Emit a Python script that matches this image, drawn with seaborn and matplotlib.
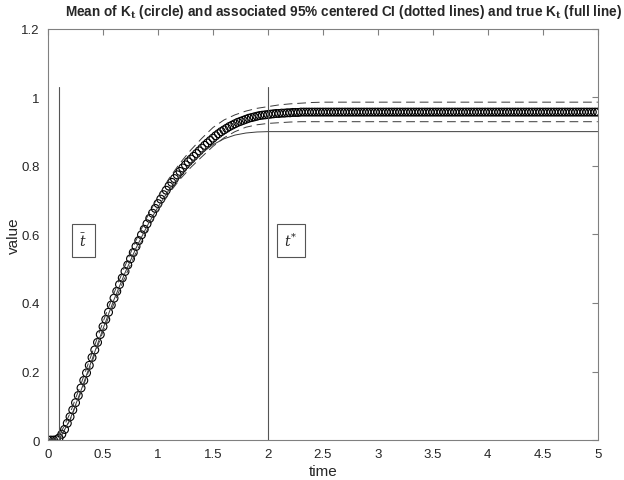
import numpy as np
import pandas as pd
import matplotlib
matplotlib.use("Agg")
import matplotlib.pyplot as plt
import seaborn as sns

# time grid of the circles (step 0.025)
time_mean = np.round(np.arange(201) * 0.025, 3)
mean_k = [
    0.0, 0.0, 0.0, 0.001, 0.006, 0.017, 0.031, 0.049, 0.068, 0.088,
    0.109, 0.13, 0.152, 0.174, 0.196, 0.218, 0.241, 0.263, 0.285, 0.308,
    0.331, 0.352, 0.373, 0.394, 0.414, 0.434, 0.454, 0.473, 0.492, 0.511,
    0.529, 0.547, 0.565, 0.582, 0.599, 0.615, 0.631, 0.647, 0.662, 0.676,
    0.69, 0.703, 0.716, 0.729, 0.741, 0.752, 0.763, 0.774, 0.784, 0.794,
    0.803, 0.812, 0.82, 0.828, 0.836, 0.844, 0.852, 0.86, 0.867, 0.874,
    0.881, 0.888, 0.894, 0.9, 0.905, 0.91, 0.915, 0.919, 0.923, 0.927,
    0.93, 0.933, 0.936, 0.939, 0.941, 0.943, 0.945, 0.947, 0.948, 0.949,
    0.95, 0.951, 0.952, 0.953, 0.953, 0.954, 0.954, 0.955, 0.955, 0.956,
    0.956, 0.956, 0.957, 0.957, 0.957, 0.957, 0.957, 0.957, 0.957, 0.957,
    0.957, 0.957, 0.957, 0.957, 0.957, 0.957, 0.957, 0.957, 0.957, 0.957,
    0.957, 0.957, 0.957, 0.957, 0.957, 0.957, 0.957, 0.957, 0.957, 0.957,
    0.957, 0.957, 0.957, 0.957, 0.957, 0.957, 0.957, 0.957, 0.957, 0.957,
    0.957, 0.957, 0.957, 0.957, 0.957, 0.957, 0.957, 0.957, 0.957, 0.957,
    0.957, 0.957, 0.957, 0.957, 0.957, 0.957, 0.957, 0.957, 0.957, 0.957,
    0.957, 0.957, 0.957, 0.957, 0.957, 0.957, 0.957, 0.957, 0.957, 0.957,
    0.957, 0.957, 0.957, 0.957, 0.957, 0.957, 0.957, 0.957, 0.957, 0.957,
    0.957, 0.957, 0.957, 0.957, 0.957, 0.957, 0.957, 0.957, 0.957, 0.957,
    0.957, 0.957, 0.957, 0.957, 0.957, 0.957, 0.957, 0.957, 0.957, 0.957,
    0.957, 0.957, 0.957, 0.957, 0.957, 0.957, 0.957, 0.957, 0.957, 0.957,
    0.957,
]

# coarser grid for CI bounds and true curve (step 0.1)
time_line = np.round(np.arange(51) * 0.1, 2)
ci_upper = [
    0.0, 0.01, 0.078, 0.164, 0.254, 0.345, 0.429, 0.508, 0.583, 0.65,
    0.71, 0.763, 0.808, 0.847, 0.881, 0.912, 0.934, 0.949, 0.96, 0.968,
    0.973, 0.978, 0.981, 0.983, 0.985, 0.986, 0.986, 0.986, 0.986, 0.986,
    0.986, 0.986, 0.986, 0.986, 0.986, 0.986, 0.986, 0.986, 0.986, 0.986,
    0.986, 0.986, 0.986, 0.986, 0.986, 0.986, 0.986, 0.986, 0.986, 0.986,
    0.986,
]
ci_lower = [
    0.0, 0.003, 0.058, 0.14, 0.228, 0.317, 0.399, 0.476, 0.547, 0.612,
    0.67, 0.72, 0.761, 0.796, 0.827, 0.857, 0.882, 0.9, 0.913, 0.92,
    0.924, 0.926, 0.928, 0.929, 0.929, 0.929, 0.929, 0.929, 0.929, 0.929,
    0.929, 0.929, 0.929, 0.929, 0.929, 0.929, 0.929, 0.929, 0.929, 0.929,
    0.929, 0.929, 0.929, 0.929, 0.929, 0.929, 0.929, 0.929, 0.929, 0.929,
    0.929,
]
true_k = [
    0.0, 0.0, 0.06, 0.145, 0.235, 0.325, 0.41, 0.488, 0.56, 0.624,
    0.68, 0.73, 0.772, 0.808, 0.838, 0.862, 0.879, 0.89, 0.896, 0.899,
    0.9, 0.9, 0.9, 0.9, 0.9, 0.9, 0.9, 0.9, 0.9, 0.9,
    0.9, 0.9, 0.9, 0.9, 0.9, 0.9, 0.9, 0.9, 0.9, 0.9,
    0.9, 0.9, 0.9, 0.9, 0.9, 0.9, 0.9, 0.9, 0.9, 0.9,
    0.9,
]

# vertical markers t-bar and t*
t_bar = 0.1
t_star = 2.0
vline_top = 1.03

x_ticks = [0, 0.5, 1, 1.5, 2, 2.5, 3, 3.5, 4, 4.5, 5]
x_labels = ["0", "0.5", "1", "1.5", "2", "2.5", "3", "3.5", "4", "4.5", "5"]
y_ticks = [0, 0.2, 0.4, 0.6, 0.8, 1.0, 1.2]
y_labels = ["0", "0.2", "0.4", "0.6", "0.8", "1", "1.2"]

sns.set_style("white")
plt.rcParams["font.family"] = ["Liberation Sans", "DejaVu Sans"]
plt.rcParams["mathtext.fontset"] = "dejavuserif"

df_mean = pd.DataFrame({"time": time_mean, "value": mean_k})
df_line = pd.DataFrame({"time": time_line, "up": ci_upper, "low": ci_lower, "true": true_k})

fig = plt.figure(figsize=(6.24, 4.81), dpi=100)
ax = fig.add_axes([0.077, 0.083, 0.881, 0.855])

line_col = "#3a3a3a"
sns.lineplot(data=df_line, x="time", y="true", ax=ax, color=line_col, lw=0.7)
sns.lineplot(data=df_line, x="time", y="up", ax=ax, color=line_col, lw=0.7,
             linestyle=(0, (9, 5)))
sns.lineplot(data=df_line, x="time", y="low", ax=ax, color=line_col, lw=0.7,
             linestyle=(0, (9, 5)))
sns.scatterplot(data=df_mean, x="time", y="value", ax=ax, marker="o",
                facecolor="none", edgecolor="black", s=32, linewidth=0.8)

ax.plot([t_bar, t_bar], [0, vline_top], color="#555555", lw=0.8)
ax.plot([t_star, t_star], [0, vline_top], color="#555555", lw=0.8)

box = dict(boxstyle="square,pad=0.55", facecolor="white", edgecolor="#555555", lw=0.8)
ax.text(0.32, 0.583, r"$\bar{t}$", ha="center", va="center", fontsize=10, bbox=box)
ax.text(2.21, 0.583, r"$t^{*}$", ha="center", va="center", fontsize=10, bbox=box)

ax.set_xlim(0, 5)
ax.set_ylim(0, 1.2)
ax.set_xticks(x_ticks)
ax.set_xticklabels(x_labels)
ax.set_yticks(y_ticks)
ax.set_yticklabels(y_labels)
ax.tick_params(direction="in", top=True, right=True, length=4, width=0.8,
               color="#808080", labelsize=9.5)
ax.tick_params(axis="y", pad=6)
ax.tick_params(axis="x", pad=6)
for sp in ax.spines.values():
    sp.set_color("#808080")
    sp.set_linewidth(0.8)

ax.set_xlabel("time", fontsize=11)
ax.set_ylabel("value", fontsize=11)
ax.yaxis.set_label_coords(-0.05, 0.5)
ax.xaxis.set_label_coords(0.5, -0.058)
fig.text(0.55, 0.975, r"Mean of K$_\mathbf{t}$ (circle) and associated 95% centered CI (dotted lines) and true K$_\mathbf{t}$ (full line)",
         ha="center", va="center", fontsize=9.8, fontweight="bold")

fig.savefig("out.png", dpi=100)
